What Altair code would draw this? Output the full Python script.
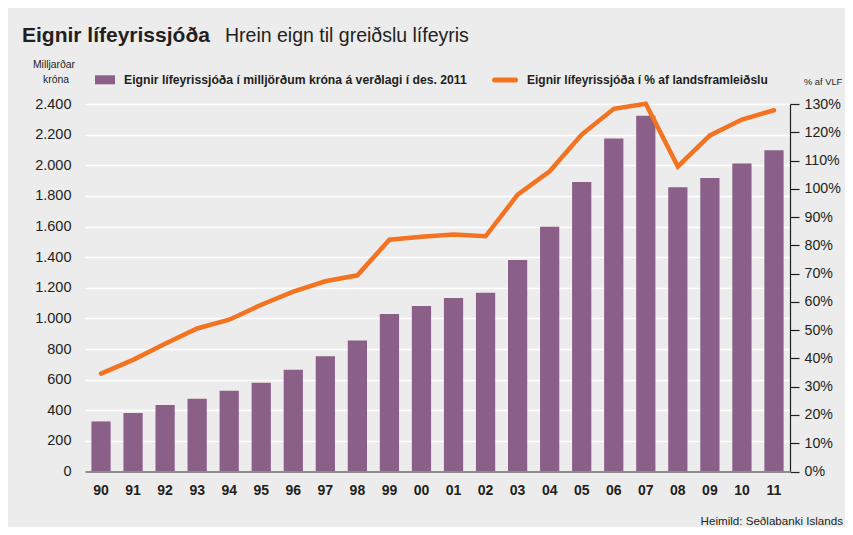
import altair as alt
import pandas as pd

years = ["90", "91", "92", "93", "94", "95", "96", "97", "98", "99", "00",
         "01", "02", "03", "04", "05", "06", "07", "08", "09", "10", "11"]
assets_bn_isk = [327, 382, 434, 475, 527, 580, 665, 752, 856, 1029, 1081,
                 1133, 1168, 1382, 1599, 1891, 2174, 2323, 1856, 1917, 2011, 2098]
pct_of_gdp = [34.6, 39.5, 45.2, 50.6, 53.7, 59.0, 63.6, 67.3, 69.4, 82.0, 83.0,
              83.8, 83.2, 97.9, 106.2, 119.2, 128.3, 130.1, 107.9, 118.9, 124.5, 127.8]
left_ticks = list(range(0, 2401, 200))
right_ticks = list(range(0, 131, 10))

title_main = "Eignir lífeyrissjóða"
title_sub = "Hrein eign til greiðslu lífeyris"
legend_bar = "Eignir lífeyrissjóða í milljörðum króna á verðlagi í des. 2011"
legend_line = "Eignir lífeyrissjóða í % af landsframleiðslu"
source = "Heimild: Seðlabanki Islands"

FONT = "Liberation Sans, Arial, sans-serif"
TXT = "#231f20"
BG = "#ececec"
PURPLE = "#8a5f88"
ORANGE = "#f37321"

df = pd.DataFrame({"year": years, "assets": assets_bn_isk, "pct": pct_of_gdp})

x = alt.X("year:N", sort=years,
          scale=alt.Scale(paddingInner=0.4, paddingOuter=0.2),
          axis=alt.Axis(title=None, labelAngle=0, ticks=False, grid=False,
                        domainColor="#8c8c8c", domainWidth=2, zindex=1,
                        labelFont=FONT, labelFontSize=14, labelFontWeight="bold",
                        labelColor=TXT, labelPadding=12))

bars = alt.Chart(df).mark_bar(color=PURPLE).encode(
    x=x,
    y=alt.Y("assets:Q", scale=alt.Scale(domain=[0, 2400], nice=False),
            axis=alt.Axis(title=None, values=left_ticks, grid=True,
                          gridColor="white", gridWidth=1.6, domain=False,
                          ticks=False, labelFont=FONT, labelFontSize=14.5,
                          labelColor=TXT, labelPadding=14,
                          labelExpr="replace(format(datum.value, ','), ',', '.')")),
)

line = alt.Chart(df).mark_line(color=ORANGE, strokeWidth=4.5, strokeCap="round").encode(
    x=x,
    y=alt.Y("pct:Q", scale=alt.Scale(domain=[0, 130], nice=False),
            axis=alt.Axis(title=None, orient="right", values=right_ticks, grid=False,
                          domainColor=TXT, domainWidth=1.2, tickColor=TXT,
                          tickSize=9, tickWidth=1.2, labelFont=FONT,
                          labelFontSize=14.2, labelColor=TXT, labelPadding=5,
                          labelExpr="datum.value + '%'")),
)

one = pd.DataFrame({"k": [0]})


def label(text, px, py, size, weight="normal", align="left"):
    return alt.Chart(one).mark_text(
        text=text, font=FONT, fontSize=size, fontWeight=weight, align=align,
        baseline="alphabetic", color=TXT
    ).encode(x=alt.value(px), y=alt.value(py))


legend_rect = alt.Chart(one).mark_rect(color=PURPLE).encode(
    x=alt.value(10), x2=alt.value(30), y=alt.value(-28.7), y2=alt.value(-19.7))
legend_rule = alt.Chart(one).mark_rule(color=ORANGE, strokeWidth=5, strokeCap="round").encode(
    x=alt.value(409.5), x2=alt.value(430.5), y=alt.value(-24))

chart = alt.layer(
    bars, line,
    label(title_main, -63, -62, 21, "bold"),
    label(title_sub, 140, -62, 19.5),
    label("Milljarðar", -31, -36, 10.4, align="center"),
    label("króna", -29, -21, 10.4, align="center"),
    legend_rect,
    label(legend_bar, 39, -19.7, 12.2, "bold"),
    legend_rule,
    label(legend_line, 442, -19.7, 12, "bold"),
    label("% af VLF", 719, -19, 9.3),
    label(source, 758, 421, 11.6, align="right"),
).resolve_scale(y="independent").properties(
    width=705, height=367.5, background=BG,
    autosize=alt.AutoSizeParams(type="none"),
    padding={"left": 77, "top": 96, "right": 55, "bottom": 55.5},
).configure_view(stroke=None)

chart.save("out.html", embed_options={"renderer": "svg", "actions": False})
